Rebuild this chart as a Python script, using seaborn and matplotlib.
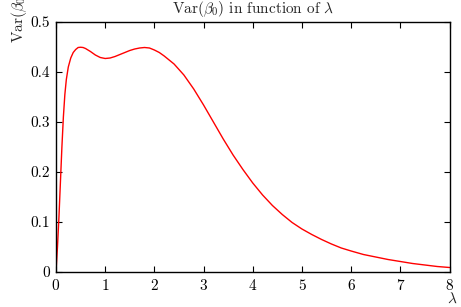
import pandas as pd
import matplotlib
matplotlib.use('Agg')
import matplotlib.pyplot as plt
from matplotlib.ticker import FuncFormatter
import seaborn as sns

# 曲线数据
lam = [0, 0.03, 0.06, 0.09, 0.12, 0.15, 0.18, 0.21, 0.25, 0.3, 0.35, 0.4,
       0.45, 0.5, 0.55, 0.6, 0.7, 0.8, 0.9, 1.0, 1.1, 1.2, 1.3, 1.4, 1.5,
       1.6, 1.7, 1.8, 1.9, 2.0, 2.1, 2.2, 2.4, 2.6, 2.8, 3.0, 3.2, 3.4,
       3.6, 3.8, 4.0, 4.2, 4.4, 4.6, 4.8, 5.0, 5.2, 5.4, 5.6, 5.8, 6.0,
       6.25, 6.5, 6.75, 7.0, 7.25, 7.5, 7.75, 8.0]
var_beta0 = [0, 0.05, 0.11, 0.18, 0.25, 0.31, 0.355, 0.385, 0.41, 0.428, 0.439, 0.445,
             0.449, 0.4495, 0.449, 0.447, 0.441, 0.434, 0.429, 0.427, 0.428, 0.431, 0.435, 0.439, 0.443,
             0.446, 0.448, 0.449, 0.448, 0.444, 0.439, 0.432, 0.416, 0.394, 0.366, 0.334, 0.300, 0.266,
             0.234, 0.205, 0.178, 0.154, 0.133, 0.115, 0.099, 0.086, 0.075, 0.065, 0.056, 0.048, 0.042,
             0.035, 0.030, 0.025, 0.021, 0.017, 0.014, 0.011, 0.009]
x_ticks = [0, 1, 2, 3, 4, 5, 6, 7, 8]
y_ticks = [0, 0.1, 0.2, 0.3, 0.4, 0.5]

sns.set_theme(style='ticks')
plt.rcParams['font.family'] = ['cmr10']
plt.rcParams['mathtext.fontset'] = 'cm'
plt.rcParams['axes.formatter.use_mathtext'] = True
plt.rcParams['font.size'] = 11

df = pd.DataFrame({'lambda': lam, 'var': var_beta0})

fig = plt.figure(figsize=(4.61, 3.07), dpi=100)
ax = fig.add_axes([56 / 461, 1 - 272 / 307, 393.5 / 461, 250 / 307])

sns.lineplot(data=df, x='lambda', y='var', ax=ax, color='#ff0000', linewidth=1.0)

ax.set_xlim(0, 8)
ax.set_ylim(0, 0.5)
ax.set_xticks(x_ticks)
ax.set_yticks(y_ticks)
ax.yaxis.set_major_formatter(FuncFormatter(lambda v, p: '%g' % v))
ax.tick_params(direction='in', top=True, right=True, length=4, width=0.8,
               labelsize=11, colors='black')
ax.tick_params(axis='x', pad=4.5)
ax.tick_params(axis='y', pad=4.5)
for s in ax.spines.values():
    s.set_color('black')
    s.set_linewidth(1.0)
ax.set_xlabel('')
ax.set_ylabel('')

# 标题、纵轴标签（左上角，被裁切）、横轴标签（右下角）
fig.text(252.75 / 461, 1 - 9 / 307, r'Var($\beta_0$) in function of $\lambda$',
         ha='center', va='center', fontsize=11)
fig.text(19 / 461, 1 - 43 / 307, r'Var($\beta_0$)', rotation=90,
         ha='center', va='bottom', fontsize=11)
fig.text(452 / 461, 1 - 299 / 307, r'$\lambda$', ha='center', va='center', fontsize=11)

fig.savefig('out.png', dpi=100)
